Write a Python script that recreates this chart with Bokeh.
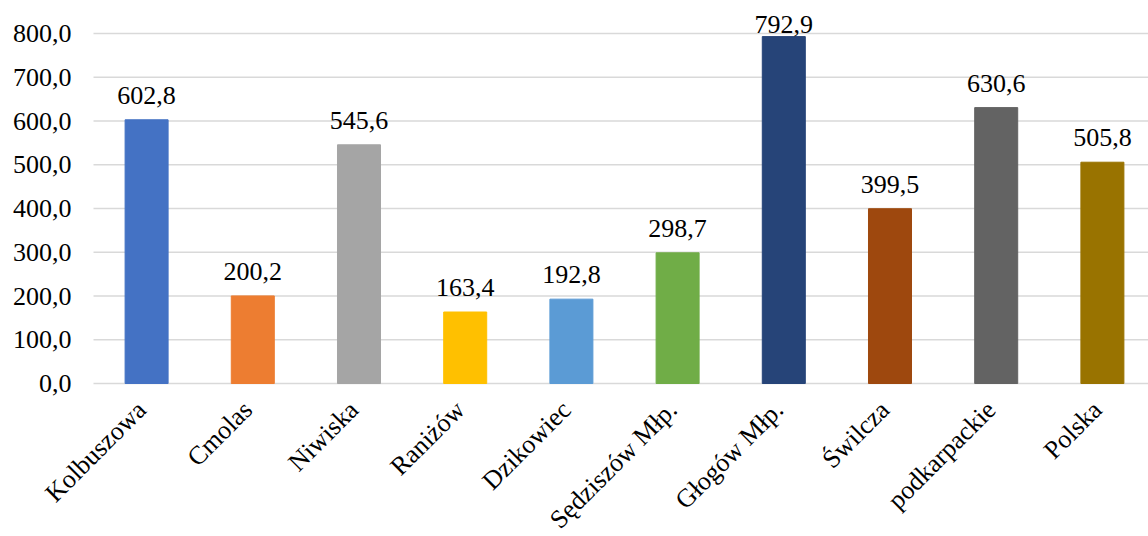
import numpy as np
from bokeh.plotting import figure
from bokeh.models import ColumnDataSource, Range1d, LabelSet
from bokeh.embed import file_html
from bokeh.resources import INLINE

categories = ["Kolbuszowa", "Cmolas", "Niwiska", "Raniżów", "Dzikowiec",
              "Sędziszów Młp.", "Głogów Młp.", "Świlcza", "podkarpackie", "Polska"]
values = [602.8, 200.2, 545.6, 163.4, 192.8, 298.7, 792.9, 399.5, 630.6, 505.8]
colors = ["#4472C4", "#ED7D31", "#A5A5A5", "#FFC000", "#5B9BD5",
          "#70AD47", "#264478", "#9E480E", "#636363", "#997300"]
y_ticks = [0, 100, 200, 300, 400, 500, 600, 700, 800]

FONT = "Liberation Serif"
FS = "26px"

# layout (pixels)
W, H = 1148, 536
plot_left = 93          # x pixel where the plot area starts
zero_y = 383            # y pixel of value 0
px_per_unit = 350 / 800.0
px_per_cat = 106.2

x_start = -0.5 - plot_left / px_per_cat
x_end = -0.5 + (W - plot_left) / px_per_cat
y_end = zero_y / px_per_unit
y_start = -(H - zero_y) / px_per_unit

idx = np.arange(len(categories))
gap = 16 / px_per_unit
label_y = np.minimum(np.array(values) + gap, 800 + 1 / px_per_unit)
labels = [f"{v:.1f}".replace(".", ",") for v in values]

bars = ColumnDataSource(dict(x=idx, top=values, color=colors, ly=label_y, lab=labels,
                             cx=idx - 5 / px_per_cat,
                             cy=np.full(len(idx), -22 / px_per_unit),
                             cat=categories))
ticks = ColumnDataSource(dict(y=y_ticks,
                              x0=np.full(len(y_ticks), -0.5),
                              x1=np.full(len(y_ticks), x_end),
                              lx=np.full(len(y_ticks), -0.5 - 22 / px_per_cat),
                              lab=[f"{t:.1f}".replace(".", ",") for t in y_ticks]))

p = figure(width=W, height=H, output_backend="svg", toolbar_location=None,
           x_range=Range1d(x_start, x_end), y_range=Range1d(y_start, y_end),
           min_border=0)
p.outline_line_color = None
p.background_fill_color = "white"
p.border_fill_color = "white"
p.axis.visible = False
p.grid.visible = False

# gridlines
p.segment(x0="x0", x1="x1", y0="y", y1="y", source=ticks,
          line_color="#D9D9D9", line_width=1.5)

# bars
p.vbar(x="x", top="top", width=0.405, color="color", source=bars)

# value axis labels
p.add_layout(LabelSet(x="lx", y="y", text="lab", source=ticks, text_align="right",
                      text_baseline="middle", text_font=FONT, text_font_size=FS,
                      text_color="#000000"))

# data labels
p.add_layout(LabelSet(x="x", y="ly", text="lab", source=bars, text_align="center",
                      text_baseline="alphabetic", text_font=FONT, text_font_size=FS,
                      text_color="#000000"))

# category labels
p.add_layout(LabelSet(x="cx", y="cy", text="cat", source=bars, text_align="right",
                      text_baseline="middle", angle=np.pi / 4, text_font=FONT,
                      text_font_size=FS, text_color="#000000"))

open("out.html", "w").write(file_html(p, INLINE))
